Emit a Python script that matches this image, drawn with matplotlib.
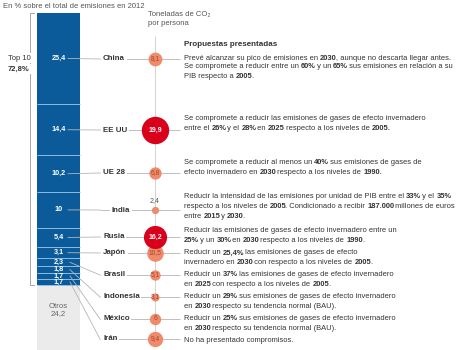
import numpy as np
import matplotlib
matplotlib.use('Agg')
import matplotlib.pyplot as plt
from matplotlib.font_manager import FontProperties

plt.rcParams['font.family'] = ['Liberation Sans', 'DejaVu Sans']

# Datos
paises = ['China', 'EE UU', 'UE 28', 'India', 'Rusia', 'Japón', 'Brasil',
          'Indonesia', 'México', 'Irán']
emisiones = [25.4, 14.4, 10.2, 10, 5.4, 3.1, 2.3, 1.8, 1.7, 1.7]  # % del total 2012
otros = 24.2
top10 = '72,8%'
toneladas = [8.1, 19.9, 6.8, 2.4, 16.2, 10.5, 5.1, 3.1, 6.0, 9.4]  # t CO2 por persona

propuestas = [
    ['Prevé alcanzar su pico de emisiones en **2030**, aunque no descarta llegar antes.',
     'Se compromete a reducir entre un **60%** y un **65%** sus emisiones en relación a su',
     'PIB respecto a **2005**.'],
    ['Se compromete a reducir las emisiones de gases de efecto invernadero',
     'entre el **26%** y el **28%** en **2025** respecto a los niveles de **2005.**'],
    ['Se compromete a reducir al menos un **40%** sus emisiones de gases de',
     'efecto invernadero en **2030** respecto a los niveles de **1990.**'],
    ['Reducir la intensidad de las emisiones por unidad de PIB entre el **33%** y el **35%**',
     'respecto a los niveles de **2005**. Condicionado a recibir **187.000** millones de euros',
     'entre **2015** y **2030**.'],
    ['Reducir las emisiones de gases de efecto invernadero entre un',
     '**25%** y un **30%** en **2030** respecto a los niveles de **1990**.'],
    ['Reducir un **25,4%** las emisiones de gases de efecto',
     'invernadero en **2030** con respecto a los niveles de **2005**.'],
    ['Reducir un **37%** las emisiones de gases de efecto invernadero',
     'en **2025** con respecto a los niveles de **2005**.'],
    ['Reducir un **29%** sus emisiones de gases de efecto invernadero',
     'en **2030** respecto su tendencia normal (BAU).'],
    ['Reducir un **25%** sus emisiones de gases de efecto invernadero',
     'en **2030** respecto su tendencia normal (BAU).'],
    ['No ha presentado compromisos.'],
]

# Posiciones (pixeles)
fila_y = [59, 130, 173, 210, 237, 253, 275, 297, 319, 339]
texto_y = [58, 119, 163, 197, 231, 253, 275, 297, 319, 340]
AZUL = '#0b5b9b'
ROJO = '#d9001b'
SALMON = '#ef8b6b'
GRIS = '#b5b5b5'
TXT = '#333333'
FS = 5.4

fig = plt.figure(figsize=(4.59, 3.5), dpi=100)
renderer = fig.canvas.get_renderer()


def coma(v):
    return ('%g' % v).replace('.', ',')


def ancho(s, peso):
    # ancho en pixeles, incluidos espacios al principio y al final
    fp = FontProperties(family='Liberation Sans', size=FS, weight=peso)
    w1 = renderer.get_text_width_height_descent('|' + s + '|', fp, ismath=False)[0]
    w0 = renderer.get_text_width_height_descent('||', fp, ismath=False)[0]
    return w1 - w0 - (1.2 if peso == 'bold' else 0)


def linea_mixta(ax, x, y, linea):
    for k, p in enumerate(linea.split('**')):
        if not p:
            continue
        peso = 'bold' if k % 2 == 1 else 'normal'
        ax.text(x, y, p, fontsize=FS, color=TXT, fontweight=peso,
                va='center', ha='left')
        x += ancho(p, peso)


# Barra apilada en unidades de %
ax_bar = fig.add_axes([0, 0, 1, 1])
ax_bar.axis('off')
ax_bar.set_xlim(0, 459)
px_por_unidad = 3.58
arriba = 13
ax_bar.set_ylim((350 - arriba) / px_por_unidad, -arriba / px_por_unidad)

bases = np.concatenate([[0], np.cumsum(emisiones)[:-1]])
ax_bar.bar(58.5, emisiones, width=43, bottom=bases, color=AZUL, linewidth=0)
ax_bar.bar(58.5, otros, width=43, bottom=sum(emisiones), color='#ebebeb', linewidth=0)
ax_bar.hlines(np.cumsum(emisiones), 37, 80, color='#8fbde3', lw=0.7)
centros = bases + np.array(emisiones) / 2
for c, v in zip(centros, emisiones):
    ax_bar.text(58.5, c, coma(v), ha='center', va='center', color='white',
                fontsize=5.2, fontweight='bold')

# Capa de anotaciones en pixeles
ax = fig.add_axes([0, 0, 1, 1])
ax.axis('off')
ax.set_xlim(0, 459)
ax.set_ylim(350, 0)
ax.patch.set_alpha(0)


def a_px(y):
    return ax.transData.inverted().transform(ax_bar.transData.transform((0, y)))[1]


ax.text(3, 6, 'En % sobre el total de emisiones en 2012', fontsize=5.5,
        color='#555555', va='center')
ax.text(148, 11, 'Toneladas de CO\u2082\npor persona', fontsize=5.5,
        color='#555555', va='top', linespacing=1.4)
ax.text(184, 45, 'Propuestas presentadas', fontsize=5.8, fontweight='bold',
        color=TXT, va='center')

# Corchete top 10
fin_top = a_px(sum(emisiones))
ax.plot([34, 30, 30, 34], [arriba, arriba, fin_top, fin_top], color='#999999', lw=0.6)
ax.text(19, 58, 'Top 10', fontsize=5.5, color=TXT, ha='center', va='center',
        bbox=dict(facecolor='white', edgecolor='none', pad=1))
ax.text(19, 69, top10, fontsize=5.5, color=TXT, ha='center', va='center',
        fontweight='bold', bbox=dict(facecolor='white', edgecolor='none', pad=1))
ax.text(58.5, 310, 'Otros\n' + coma(otros), fontsize=5.6, color='#666666',
        ha='center', va='center', linespacing=1.2)

# Eje vertical de los círculos
ax.vlines(155, 36, 346, color='#cccccc', lw=0.6, zorder=1)

for i, (pais, v, t) in enumerate(zip(paises, emisiones, toneladas)):
    y = fila_y[i]
    yc = a_px(centros[i])
    x0 = 68 if v > 3 else 70
    ax.plot([x0, 100], [yc, y], color=GRIS, lw=0.6, zorder=1)
    ax.hlines(y, 100, 180, color=GRIS, lw=0.6, zorder=1)
    xl = 112 if pais == 'India' else 103
    ax.text(xl, y, pais, fontsize=5.7, fontweight='bold', color=TXT,
            va='center', ha='left', zorder=2,
            bbox=dict(facecolor='white', edgecolor='none', pad=1.2))
    d = 4.5 + 1.15 * t
    rojo = t > 15
    ax.scatter(155, y, s=(d * 0.72) ** 2, color=ROJO if rojo else SALMON,
               linewidths=0, zorder=4 if rojo else 3)
    if pais == 'India':
        ax.text(155, y - 9, coma(t), fontsize=5, color='#555555', ha='center',
                va='center', zorder=5)
    else:
        ax.text(155, y, coma(t), fontsize=5 if rojo else 4.8,
                color='white' if rojo else '#a5452c',
                fontweight='bold' if rojo else 'normal',
                ha='center', va='center', zorder=5)
    paso = 9 if i == 0 else 9.8
    for k, linea in enumerate(propuestas[i]):
        linea_mixta(ax, 184, texto_y[i] + k * paso, linea)

fig.savefig('out.png', dpi=100)
